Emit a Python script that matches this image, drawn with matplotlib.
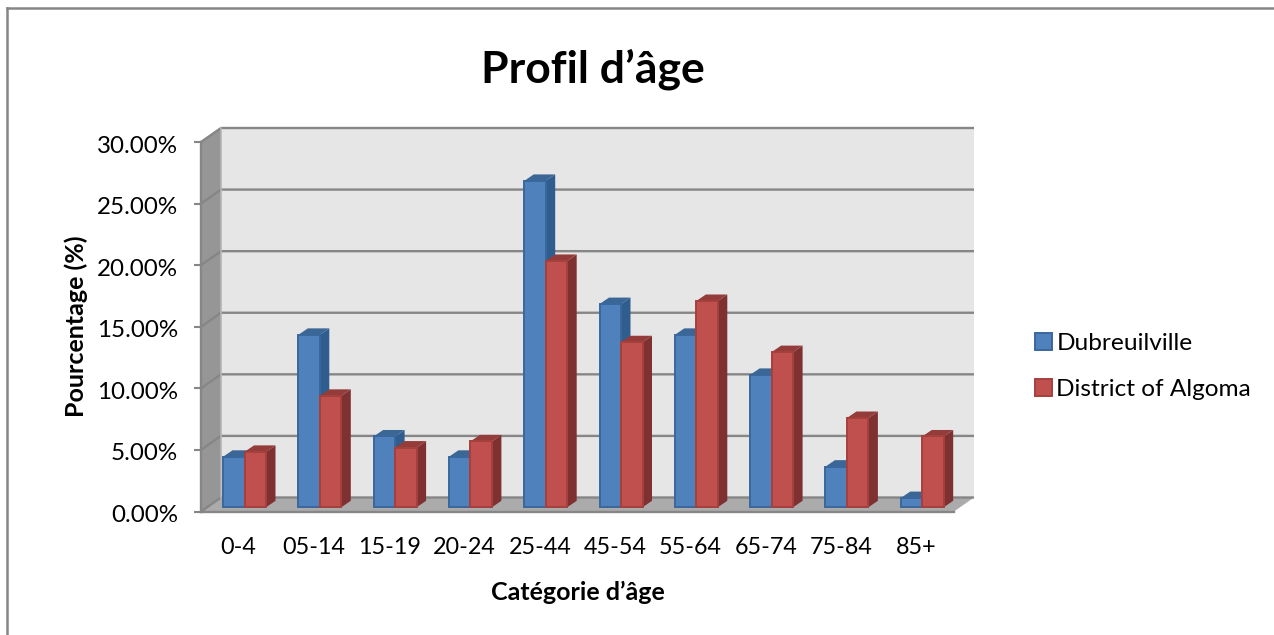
# -*- coding: utf-8 -*-
"""Profil d'age: clustered columns drawn with an Excel style 3D look."""
import matplotlib
matplotlib.use("Agg")
import matplotlib.pyplot as plt
from matplotlib.lines import Line2D
from matplotlib.patches import Patch, Polygon
from matplotlib.ticker import MultipleLocator, PercentFormatter
from matplotlib.transforms import ScaledTranslation

plt.rcParams['font.family'] = ['Lato', 'DejaVu Sans']

# Data
categories = ['0-4', '05-14', '15-19', '20-24', '25-44',
              '45-54', '55-64', '65-74', '75-84', '85+']
dubreuilville = [4.1, 14.0, 5.75, 4.1, 26.5, 16.5, 14.0, 10.75, 3.3, 0.75]
algoma = [4.5, 9.05, 4.85, 5.35, 20.0, 13.4, 16.75, 12.6, 7.25, 5.75]

# Styles
W, H = 1274, 635
LEFT, RIGHT, TOP, BOTTOM = 201, 954, 142, 511.5
PX_X = 10 / (RIGHT - LEFT)       # one pixel in category units
PX_Y = 30 / (BOTTOM - TOP)       # one pixel in percent units
WALL_DX, WALL_DY = 20 * PX_X, 14 * PX_Y
BAR_DX, BAR_DY = 9.5 * PX_X, 6.5 * PX_Y
BAR_LEFT, BAR_BASE = 22 * PX_X, 4.2 * PX_Y
BAR_W = 21.5 * PX_X
GRID = '#868686'
BLUE = dict(front='#4F81BD', edge='#3A679C', top='#3B6797', side='#2F5D8F')
RED = dict(front='#C0504D', edge='#A5403D', top='#943C3A', side='#7E3130')


def poly(ax, pts, color, z, edge='none', lw=0):
    ax.add_patch(Polygon(pts, closed=True, facecolor=color, edgecolor=edge,
                         linewidth=lw, zorder=z, clip_on=False))


def draw_bar(ax, x, value, st, z):
    y0 = BAR_BASE
    y1 = BAR_BASE + value
    x1 = x + BAR_W
    poly(ax, [(x1, y0), (x1 + BAR_DX, y0 + BAR_DY),
              (x1 + BAR_DX, y1 + BAR_DY), (x1, y1)], st['side'], z)
    poly(ax, [(x, y1), (x1, y1), (x1 + BAR_DX, y1 + BAR_DY),
              (x + BAR_DX, y1 + BAR_DY)], st['top'], z)
    poly(ax, [(x, y0), (x1, y0), (x1, y1), (x, y1)], st['front'], z,
         edge=st['edge'], lw=1.4)


fig = plt.figure(figsize=(W / 100, H / 100), dpi=100, facecolor='white')
ax = fig.add_axes([LEFT / W, 1 - BOTTOM / H, (RIGHT - LEFT) / W, (BOTTOM - TOP) / H])
ax.set_xlim(0, len(categories))
ax.set_ylim(0, 30)
ax.patch.set_visible(False)

# back wall, side wall, floor
poly(ax, [(WALL_DX, WALL_DY), (10 + WALL_DX, WALL_DY),
          (10 + WALL_DX, 30 + WALL_DY), (WALL_DX, 30 + WALL_DY)], '#E6E6E6', 1)
poly(ax, [(0, 0), (WALL_DX, WALL_DY), (WALL_DX, 30 + WALL_DY), (0, 30)], '#969696', 1)
poly(ax, [(0, 0), (10, 0), (10 + WALL_DX, WALL_DY), (WALL_DX, WALL_DY)], '#ABABAB', 1)

for v in range(0, 35, 5):
    ax.plot([0, WALL_DX, 10 + WALL_DX], [v, v + WALL_DY, v + WALL_DY], color=GRID,
            lw=1.7, zorder=2, clip_on=False, solid_capstyle='butt')
ax.plot([WALL_DX, WALL_DX], [WALL_DY, 30 + WALL_DY], color='#B5B5B5', lw=1.2, zorder=2, clip_on=False)

for i in range(len(categories)):
    draw_bar(ax, i + BAR_LEFT, dubreuilville[i], BLUE, 3 + i)
    draw_bar(ax, i + BAR_LEFT + BAR_W, algoma[i], RED, 3 + i)

# axes
for s in ('top', 'right'):
    ax.spines[s].set_visible(False)
for s in ('left', 'bottom'):
    ax.spines[s].set_color(GRID)
    ax.spines[s].set_linewidth(1.7)
    ax.spines[s].set_zorder(2)
ax.yaxis.set_major_locator(MultipleLocator(5))
ax.yaxis.set_major_formatter(PercentFormatter(xmax=100, decimals=2))
ax.tick_params(axis='y', length=5, width=1.5, color=GRID, labelsize=17.4, pad=11.5)
# labels sit a little under their tick in the original
for lab in ax.get_yticklabels():
    lab.set_transform(lab.get_transform() + ScaledTranslation(0, -1.5 / 72, fig.dpi_scale_trans))
ax.set_xticks([i + 0.5 for i in range(len(categories))])
ax.set_xticklabels(categories)
ax.tick_params(axis='x', length=0, labelsize=16.8, pad=18)
ax.set_xlabel("Catégorie d’âge", fontsize=18, fontweight='bold', labelpad=17)
ax.set_ylabel('Pourcentage (%)', fontsize=18, fontweight='bold', labelpad=6.7)

fig.suptitle('Profil d’âge', x=593 / W, y=1 - 69 / H, va='center',
             fontsize=32, fontweight='bold')

handles = [Patch(facecolor=BLUE['front'], edgecolor=BLUE['edge'], lw=1.4),
           Patch(facecolor=RED['front'], edgecolor=RED['edge'], lw=1.4)]
fig.legend(handles, ['Dubreuilville', 'District of Algoma'], loc='upper left',
           bbox_to_anchor=(1028 / W, 1 - 326 / H), frameon=False, fontsize=17.6,
           handlelength=0.7, handleheight=0.7, handletextpad=0.16,
           labelspacing=1.02, borderaxespad=0, borderpad=0.3)

# outer frame, open on the right and at the bottom
for xs, ys in (([7 / W, 7 / W], [0, 1 - 8 / H]), ([7 / W, 1], [1 - 8 / H, 1 - 8 / H])):
    fig.add_artist(Line2D(xs, ys, color=GRID, lw=1.8))

fig.savefig('out.png', dpi=100)
